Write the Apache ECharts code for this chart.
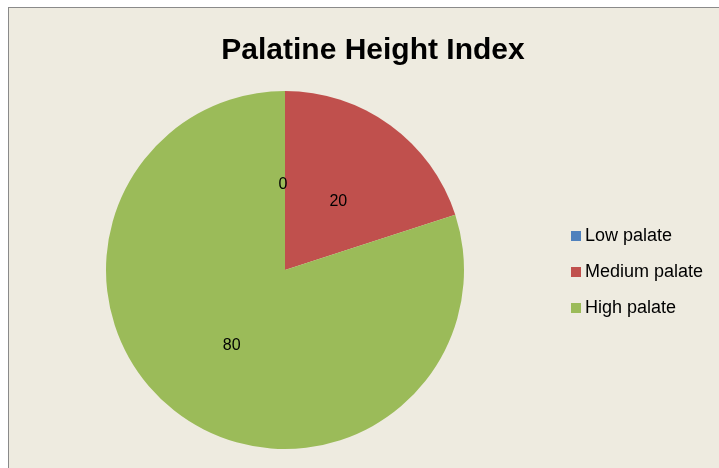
<!DOCTYPE html>
<html>
<head>
<meta charset="utf-8">
<script src="https://cdn.jsdelivr.net/npm/echarts@6/dist/echarts.min.js"></script>
<style>
html,body{margin:0;padding:0;background:#ffffff;width:719px;height:468px;overflow:hidden;}
#frame{position:absolute;left:8px;top:7px;width:760px;height:500px;background:#EEEBE0;border-left:1px solid #8a8a8a;border-top:1px solid #8a8a8a;}
#chart{position:absolute;left:0;top:0;width:719px;height:468px;}
</style>
</head>
<body>
<div id="frame"></div>
<div id="chart"></div>
<script>
const categories = ["Low palate", "Medium palate", "High palate"];
const values = [0, 20, 80];
const colors = ["#4F81BD", "#C0504D", "#9BBB59"];
const labelOffsets = [[-2, 7], [-1, 6], [1, 1]];
const titleText = "Palatine Height Index";

const chart = echarts.init(document.getElementById('chart'), null, {renderer: 'canvas'});
chart.setOption({
  backgroundColor: 'transparent',
  animation: false,
  title: {
    text: titleText,
    left: 368,
    textAlign: 'center',
    top: 31,
    textStyle: {fontFamily: 'Liberation Sans', fontWeight: 'bold', fontSize: 30, color: '#000'}
  },
  legend: {
    orient: 'vertical',
    left: 566,
    top: 222,
    itemWidth: 10,
    itemHeight: 10,
    itemGap: 18,
    icon: 'rect',
    textStyle: {fontFamily: 'Liberation Sans', fontSize: 18, color: '#000', padding: [0,0,0,-1]},
    data: categories
  },
  series: [{
    type: 'pie',
    center: [285, 270],
    radius: 179,
    startAngle: 90,
    clockwise: true,
    minShowLabelAngle: 0,
    avoidLabelOverlap: false,
    stillShowZeroSum: true,
    label: {show: true, position: 'inside', formatter: '{c}', fontFamily: 'Liberation Sans', fontSize: 16, color: '#000'},
    labelLine: {show: false},
    itemStyle: {borderWidth: 0},
    emphasis: {disabled: true},
    data: categories.map((c, i) => ({name: c, value: values[i], itemStyle: {color: colors[i]}, label: {offset: labelOffsets[i]}}))
  }]
});
</script>
</body>
</html>
